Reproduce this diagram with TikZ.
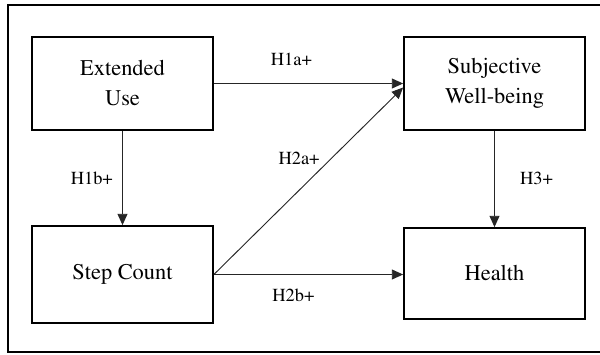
\documentclass[tikz,border=0pt]{standalone}
\usepackage[T1]{fontenc}
\usepackage{times}
\usepackage{xcolor}
\usepackage{tikz}
\usetikzlibrary{arrows.meta, positioning, calc}
\tikzset{
  varbox/.style={
    rectangle, draw=black, line width=1.3pt, fill=white,
    minimum width=181*0.75pt, minimum height=93*0.75pt,
    font=\fontsize{16.8}{22.5}\selectfont, align=center, inner sep=2pt
  },
  arrow/.style={-{Triangle[length=8.5pt, width=7.5pt]}, line width=0.7pt, draw=black!85},
  hyplabel/.style={font=\fontsize{13.8}{16}\selectfont, inner sep=0pt},
}
\begin{document}
\begin{tikzpicture}[x=0.75pt, y=0.75pt]
    \useasboundingbox (0,0) rectangle (600,354);
    \draw[line width=2.2pt] (8,349) rectangle (608,2);

    \node[varbox] (ext) at (122.5,270.5) {Extended\\Use};
    \node[varbox] (swb) at (494.5,270.5) {Subjective\\Well-being};
    \node[varbox, minimum height=97*0.75pt] (step) at (122.5,79.5) {Step Count};
    \node[varbox, minimum height=91*0.75pt] (health) at (494.5,80.5) {Health};

    \draw[arrow] (ext.east) -- node[hyplabel, pos=0.41, yshift=18pt] {H1a+} (swb.west);
    \draw[arrow] (step.east) -- node[hyplabel, pos=0.45, yshift=24pt] {H2a+} ([yshift=-3pt]swb.west);
    \draw[arrow] (step.east) -- node[hyplabel, pos=0.42, yshift=-16pt] {H2b+} (step.east -| health.west);
    \draw[arrow] (ext.south) -- node[hyplabel, pos=0.5, xshift=-23pt] {H1b+} (step.north);
    \draw[arrow] (swb.south) -- node[hyplabel, pos=0.49, xshift=31.5pt] {H3+} (health.north);
  \end{tikzpicture}
\end{document}
